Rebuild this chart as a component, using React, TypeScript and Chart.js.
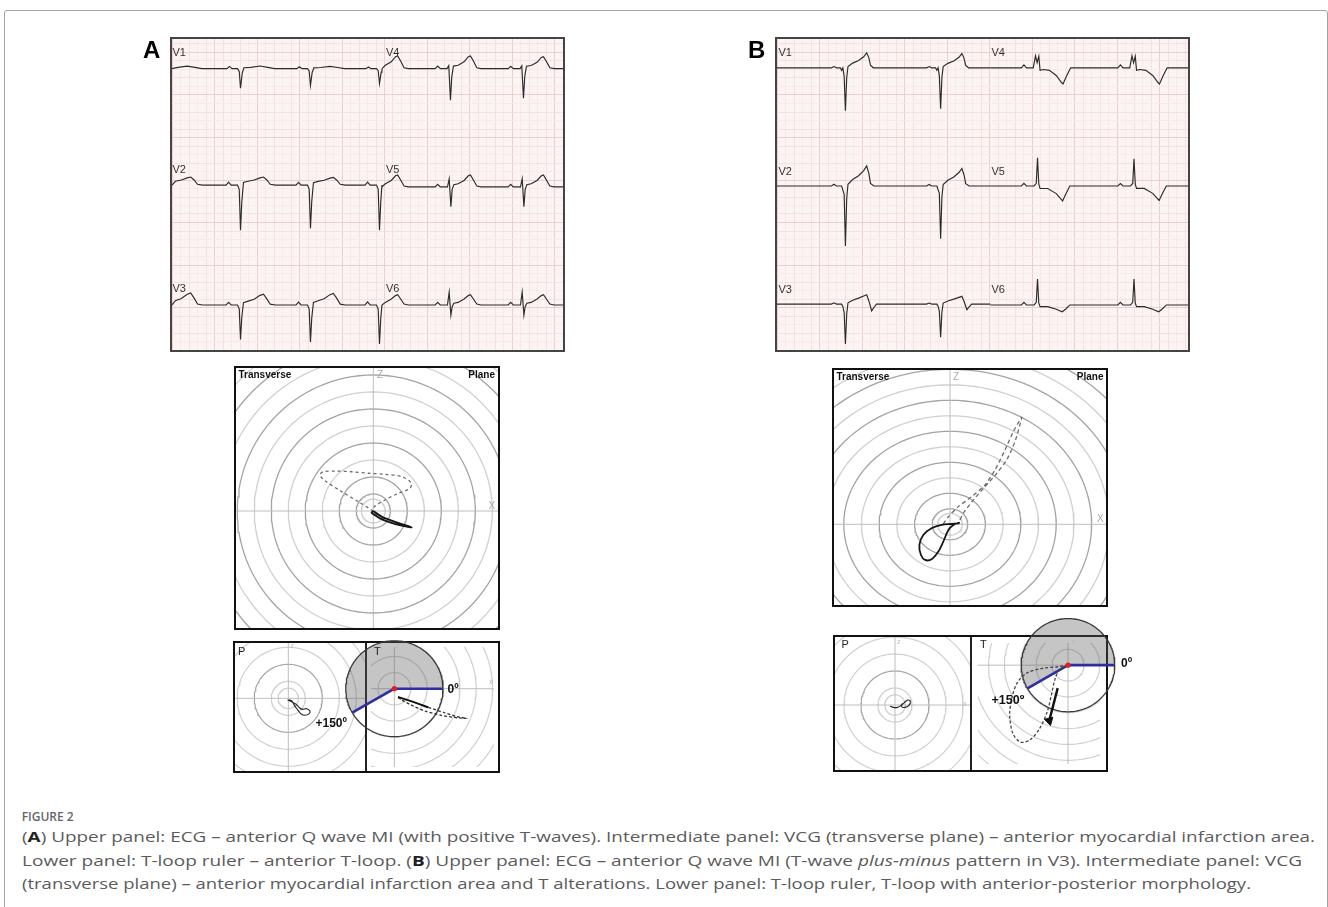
import React, { useEffect, useLayoutEffect, useRef } from "react";
import { Chart, registerables } from "chart.js";
Chart.register(...registerables);

type P = [number, number];
type Pad = { l: number; t: number; r: number; b: number };

// ================= DATA =================
// ECG strips. Units: small grid squares; x from the strip's left edge, y up from its bottom.
const ecgLeadNames = ["V1", "V2", "V3", "V4", "V5", "V6"];

// Panel A
const ecgA_baselines = [33.1, 19.4, 5.3, 33.1, 19.2, 5.3];
const ecgA_split = 24.7;
const ecgA_leftBeats = [-0.5, 8.06, 16.29, 24.41];
const ecgA_rightBeats = [24.2, 32.76, 41.35];
const ecgA_beatScales = [
  [1, 1.05, 0.9, 0.8],
  [1, 1, 0.96, 1],
  [1, 0.9, 0.97, 1.02],
  [1, 1, 0.94],
  [1, 1, 1],
  [1, 1, 1],
];
const ecgA_V1: P[] = [[-1.6, 0], [-1.3, 0.25], [-1.0, 0], [-0.35, 0], [-0.15, -0.3], [0, -2.2], [0.2, -0.5], [0.4, 0.1], [1.2, 0.15], [2.3, 0.3], [3.2, 0.15], [4, 0]];
const ecgA_V2: P[] = [[-1.7, 0], [-1.4, 0.35], [-1.1, 0], [-0.35, 0], [-0.15, -0.5], [0, -5.3], [0.15, -2.0], [0.35, 0.3], [0.9, 0.45], [1.6, 0.6], [2.3, 0.85], [2.7, 0.95], [3.1, 0.6], [3.5, 0.1], [4.1, 0]];
const ecgA_V3: P[] = [[-1.7, 0], [-1.4, 0.35], [-1.1, 0], [-0.35, 0], [-0.15, -0.5], [0, -4.5], [0.15, -1.6], [0.35, 0.3], [0.9, 0.5], [1.6, 0.75], [2.3, 1.25], [2.7, 1.4], [3.1, 0.8], [3.5, 0.1], [4.1, 0]];
const ecgA_V4: P[] = [[-1.8, 0], [-1.5, 0.3], [-1.2, 0], [-0.4, 0], [-0.2, 0.35], [0, -3.7], [0.15, -1.0], [0.35, 0.3], [0.9, 0.4], [1.6, 0.8], [2.1, 1.4], [2.35, 1.5], [2.7, 0.9], [3.1, 0.1], [3.6, 0]];
const ecgA_V5: P[] = [[-1.8, 0], [-1.5, 0.3], [-1.2, 0], [-0.35, 0], [-0.15, 0.95], [0.05, -2.35], [0.2, -0.3], [0.4, 0.25], [0.9, 0.35], [1.6, 0.75], [2.1, 1.3], [2.35, 1.4], [2.7, 0.8], [3.1, 0.1], [3.6, 0]];
const ecgA_V6: P[] = [[-1.8, 0], [-1.5, 0.3], [-1.2, 0], [-0.35, 0], [-0.15, 1.5], [0.05, -1.2], [0.2, -0.2], [0.4, 0.2], [0.9, 0.3], [1.6, 0.7], [2.1, 1.1], [2.35, 1.2], [2.7, 0.7], [3.1, 0.1], [3.6, 0]];
const ecgA_templates = [ecgA_V1, ecgA_V2, ecgA_V3, ecgA_V4, ecgA_V5, ecgA_V6];

// Panel B
const ecgB_baselines = [33.2, 19.3, 5.4, 33.2, 19.3, 5.3];
const ecgB_split = 25.1;
const ecgB_leftBeats = [8.0, 19.2];
const ecgB_rightBeats = [30.65, 42.0];
const ecgB_beatScales = [[1, 0.95], [1, 0.88], [1, 0.83], [1, 1], [1, 0.97], [1, 1]];
const ecgB_V1: P[] = [[-1.6, 0], [-1.3, 0.15], [-1.0, 0], [-0.55, 0], [-0.4, -0.3], [-0.25, 0], [-0.1, -1], [0.05, -5.06], [0.2, -1.2], [0.35, 0.15], [0.9, 0.55], [1.6, 0.85], [2.2, 1.3], [2.55, 1.76], [2.8, 1.2], [3.0, 0.3], [3.33, 0], [4, 0]];
const ecgB_V2: P[] = [[-1.6, 0], [-1.3, 0.2], [-1.0, 0], [-0.4, 0], [-0.1, -1], [0.05, -7.06], [0.2, -1.5], [0.35, 0.2], [0.9, 0.75], [1.6, 1.2], [2.2, 1.8], [2.55, 2.35], [2.8, 1.5], [3.0, 0.3], [3.4, 0], [4, 0]];
const ecgB_V3: P[] = [[-1.6, 0], [-1.3, 0.15], [-1.0, 0], [-0.4, 0], [-0.25, -0.3], [-0.1, -1], [0.05, -4.7], [0.2, -1.2], [0.35, 0.15], [0.9, 0.45], [1.6, 0.7], [2.2, 0.95], [2.55, 1.1], [2.8, 0.4], [3.14, -0.8], [3.4, -0.4], [3.7, 0], [4.2, 0]];
const ecgB_V4: P[] = [[-1.9, 0], [-1.6, 0.35], [-1.3, 0], [-0.5, 0], [-0.24, 1.4], [-0.05, 0.6], [0.15, 1.35], [0.3, -0.3], [0.7, -0.2], [1.4, -0.3], [2.2, -0.9], [2.8, -1.7], [3.0, -1.9], [3.4, -1.0], [3.9, 0], [4.5, 0]];
const ecgB_V5: P[] = [[-1.9, 0], [-1.6, 0.3], [-1.3, 0], [-0.4, 0], [-0.15, 0.3], [0, 3.3], [0.15, 0.2], [0.3, -0.3], [1.2, -0.3], [2.2, -0.9], [2.95, -1.76], [3.3, -1.0], [3.8, 0], [4.5, 0]];
const ecgB_V6: P[] = [[-1.9, 0], [-1.6, 0.3], [-1.3, 0], [-0.4, 0], [-0.15, 0.3], [0, 3.06], [0.15, 0.2], [0.3, -0.2], [1.2, -0.2], [2.2, -0.5], [2.9, -0.8], [3.3, -0.5], [3.8, 0], [4.5, 0]];
const ecgB_templates = [ecgB_V1, ecgB_V2, ecgB_V3, ecgB_V4, ecgB_V5, ecgB_V6];

// VCG transverse plane (units: one ring step), x right, z up
const vcgRingRadii = [0.7, 1, 2, 3, 4, 5, 6, 7, 8, 9, 10, 11, 12];
const vcgRingDark = [0, 1, 1, 0, 1, 0, 1, 0, 1, 0, 1, 0, 1];
const vcgA_qrsLoop: P[] = [[0, 0], [-0.88, 0.55], [-1.86, 1.14], [-2.84, 1.78], [-3.14, 2.12], [-2.94, 2.31], [-2.25, 2.35], [-1.27, 2.31], [-0.29, 2.22], [0.69, 2.16], [1.67, 2.02], [2.22, 1.67], [2.16, 1.33], [1.47, 1.04], [0.69, 0.65], [0.06, 0.25], [0, 0]];
const vcgA_tLoop: P[] = [[0, 0], [0.49, -0.33], [1.08, -0.57], [1.67, -0.78], [2.25, -0.96], [1.67, -0.86], [0.98, -0.67], [0.39, -0.43], [0.1, -0.24], [-0.1, -0.1], [0, 0]];
const vcgB_qrsLoop: P[] = [[-0.38, 0.02], [-0.09, 0.49], [0.47, 1.14], [1.22, 1.78], [1.98, 2.54], [2.54, 3.51], [3.11, 4.8], [3.58, 5.98], [4.05, 6.9], [3.92, 6.3], [3.67, 5.33], [3.2, 4.15], [2.64, 3.29], [1.98, 2.43], [1.32, 1.57], [0.75, 0.71], [0.47, 0.06]];
const vcgB_tLoop: P[] = [[0.47, 0.06], [0.09, 0.02], [-0.47, -0.04], [-1.04, -0.26], [-1.51, -0.69], [-1.73, -1.33], [-1.64, -1.98], [-1.41, -2.3], [-1.04, -2.26], [-0.66, -1.76], [-0.38, -1.12], [-0.09, -0.37], [0.19, -0.04], [0.56, 0.11]];

// T-loop ruler
const rulerP_ringRadii = [0.6, 1, 2, 3, 4, 5];
const rulerP_ringDark = [0, 0, 1, 0, 0, 0];
const rulerT_ringRadii = [1, 2, 3, 4, 5, 6, 7, 8, 9];
const rulerAngles = [0, 150]; // degrees, clockwise
const rulerA_radius = 2.97;
const rulerB_radius = 2.94;
const rulerA_pLoop: P[] = [[0, -0.1], [0.2, -0.14], [0.29, -0.29], [0.43, -0.53], [0.59, -0.73], [0.75, -0.92], [0.98, -1.0], [1.22, -0.92], [1.27, -0.75], [1.08, -0.61], [0.82, -0.65], [0.63, -0.53], [0.43, -0.33], [0.16, -0.18], [-0.04, -0.1]];
const rulerA_tLoopSolid: P[] = [[0.22, -0.51], [1.1, -0.8], [2.08, -1.16]];
const rulerA_tLoopDashed: P[] = [[2.08, -1.16], [3.06, -1.49], [3.84, -1.73], [4.43, -1.84], [3.84, -1.8], [2.86, -1.65], [1.88, -1.39], [1.0, -1.0], [0.41, -0.67], [0.22, -0.51]];
const rulerB_pLoop: P[] = [[-0.29, -0.06], [-0.1, -0.14], [0.16, -0.14], [0.35, -0.02], [0.55, 0.14], [0.75, 0.29], [0.9, 0.22], [0.82, -0.02], [0.59, -0.14], [0.39, -0.1], [0.43, 0.1]];
const rulerB_tLoop: P[] = [[0, 0], [-0.63, -0.1], [-1.61, -0.2], [-2.59, -0.49], [-3.18, -1.08], [-3.51, -1.96], [-3.67, -3.14], [-3.47, -4.31], [-2.98, -4.86], [-2.39, -4.71], [-1.8, -4.02], [-1.31, -2.94], [-1.02, -1.76], [-0.82, -0.88], [-0.53, -0.29], [0, 0]];
const rulerB_arrow: P[] = [[-0.65, -1.45], [-1.18, -3.5]];

// Caption
const captionTitle = "FIGURE 2";

// ================= HELPERS =================
const SANS = '"Liberation Sans", Arial, Helvetica, sans-serif';
const CAP = '"Open Sans", "Noto Sans", sans-serif';
const ECG_UNIT = 8.5;
const RING_DARK = "#a4a4a4";
const RING_LIGHT = "#d0d0d0";
const AXIS = "#bdbdbd";

const xy = (p: P[]) => p.map(([x, y]) => ({ x, y }));

function arc(r: number, from: number, to: number, step = 3) {
  const pts: { x: number; y: number }[] = [];
  for (let a = from; a <= to + 1e-9; a += step) {
    const t = (a * Math.PI) / 180;
    pts.push({ x: r * Math.cos(t), y: -r * Math.sin(t) });
  }
  return pts;
}

function line(data: any[], color: string, width: number, extra: any = {}) {
  return { data, showLine: true, borderColor: color, borderWidth: width, pointRadius: 0, fill: false, tension: 0, ...extra };
}

function buildTrace(c0: number, c1: number, base: number, beats: number[], scales: number[], tpl: P[]) {
  const pts = [{ x: c0, y: base }];
  beats.forEach((b, i) => {
    tpl.forEach(([dx, dy]) => {
      const x = b + dx;
      if (x > c0 && x < c1) pts.push({ x, y: base + dy * scales[i] });
    });
  });
  pts.push({ x: c1, y: base });
  return pts;
}

const baseOptions = {
  responsive: false,
  animation: false,
  devicePixelRatio: 1,
  events: [],
  plugins: { legend: { display: false }, tooltip: { enabled: false } },
};

function ecgConfig(w: number, h: number, baselines: number[], split: number, left: number[], right: number[], scales: number[][], tpls: P[][]) {
  const xMax = w / ECG_UNIT;
  const yMax = h / ECG_UNIT;
  const traces = tpls.map((tpl, i) =>
    i < 3
      ? buildTrace(0, split, baselines[i], left, scales[i], tpl)
      : buildTrace(split, xMax, baselines[i], right, scales[i], tpl)
  );
  const gridTicks = (scale: any) => {
    const t: any[] = [];
    for (let v = 0; v <= scale.max; v++) t.push({ value: v });
    scale.ticks = t;
  };
  const gridColor = (ctx: any) => {
    const v = ctx.tick ? ctx.tick.value : 1;
    if (v % 5 === 0) return "#ebcfcf";
    if (v % 2 === 0) return "#f3e2e2";
    return "#f7eaea";
  };
  const axis = (max: number) => ({
    type: "linear",
    min: 0,
    max,
    afterBuildTicks: gridTicks,
    ticks: { display: false },
    grid: { color: gridColor, drawTicks: false, lineWidth: 1 },
    border: { display: false },
  });
  return {
    type: "scatter",
    data: { datasets: traces.map((t) => line(t, "#2b2b2b", 1.15)) },
    options: { ...baseOptions, layout: { padding: 0 }, scales: { x: axis(xMax), y: axis(yMax) } },
  };
}

type Geo = { w: number; h: number; cx: number; cy: number; ux: number; uy: number; pad: Pad };

function polarConfig(g: Geo, datasets: any[]) {
  return {
    type: "scatter",
    data: { datasets },
    options: {
      ...baseOptions,
      layout: { padding: 0 },
      scales: {
        x: { type: "linear", display: false, min: (-g.pad.l - g.cx) / g.ux, max: (g.w + g.pad.r - g.cx) / g.ux },
        y: { type: "linear", display: false, min: (g.cy - g.h - g.pad.b) / g.uy, max: (g.cy + g.pad.t) / g.uy },
      },
    },
  };
}

const panelClip = (p: Pad) => ({ left: -p.l, top: -p.t, right: -p.r, bottom: -p.b });

function ringsAndAxes(radii: number[], dark: number[], pad: Pad, width = 1.2) {
  const clip = panelClip(pad);
  const ds = radii.map((r, i) => line(arc(r, 0, 360), dark[i] ? RING_DARK : RING_LIGHT, width, { clip, order: 20 }));
  ds.push(line([{ x: -40, y: 0 }, { x: 40, y: 0 }], AXIS, 1, { clip, order: 19 }));
  ds.push(line([{ x: 0, y: -40 }, { x: 0, y: 40 }], AXIS, 1, { clip, order: 19 }));
  return ds;
}

function rulerSets(r: number) {
  const a0 = rulerAngles[0];
  const a1 = rulerAngles[1];
  const shade = [{ x: 0, y: 0 }, ...arc(r, a1, 360 + a0, 2), { x: 0, y: 0 }];
  const end = (a: number) => arc(r, a, a, 1)[0];
  return [
    line(shade, "rgba(0,0,0,0)", 1, { fill: "shape", backgroundColor: "rgba(95,95,95,0.36)", clip: false, order: 10 }),
    line(arc(r, 0, 360, 2), "#3a3a3a", 1.3, { clip: false, order: 5 }),
    line([{ x: 0, y: 0 }, end(a0)], "#2e2e9e", 2.6, { clip: false, order: 3 }),
    line([{ x: 0, y: 0 }, end(a1)], "#2e2e9e", 2.6, { clip: false, order: 3 }),
    { data: [{ x: 0, y: 0 }], showLine: false, pointRadius: 2.6, pointBackgroundColor: "#e0201c", pointBorderWidth: 0, clip: false, order: 1 },
  ];
}

const ZERO: Pad = { l: 0, t: 0, r: 0, b: 0 };

// geometry
const vcgA_geo: Geo = { w: 262, h: 260, cx: 137.3, cy: 143, ux: 17, uy: 17, pad: ZERO };
const vcgB_geo: Geo = { w: 272, h: 235, cx: 116, cy: 154.3, ux: 17.7, uy: 15.5, pad: ZERO };
const rAP_geo: Geo = { w: 130, h: 128, cx: 53.3, cy: 55.3, ux: 17, uy: 17, pad: ZERO };
const rAT_geo: Geo = { w: 131, h: 128, cx: 26, cy: 45, ux: 17, uy: 17, pad: { l: 45, t: 20, r: 40, b: 10 } };
const rBP_geo: Geo = { w: 135, h: 133, cx: 60, cy: 68, ux: 17, uy: 17, pad: ZERO };
const rBT_geo: Geo = { w: 134, h: 133, cx: 97, cy: 26.3, ux: 17, uy: 17, pad: { l: 10, t: 35, r: 40, b: 10 } };

function vcgA() {
  const g = vcgA_geo;
  return polarConfig(g, [
    ...ringsAndAxes(vcgRingRadii, vcgRingDark, g.pad, 1.3),
    line(xy(vcgA_qrsLoop), "#6c6c6c", 1.3, { borderDash: [3, 3], tension: 0.3, order: 4 }),
    line(xy(vcgA_tLoop), "#151515", 2.0, { tension: 0.3, order: 3 }),
  ]);
}
function vcgB() {
  const g = vcgB_geo;
  return polarConfig(g, [
    ...ringsAndAxes(vcgRingRadii, vcgRingDark, g.pad, 1.3),
    line(xy(vcgB_qrsLoop), "#6c6c6c", 1.3, { borderDash: [4, 3], tension: 0.25, order: 4 }),
    line(xy(vcgB_tLoop), "#151515", 1.8, { tension: 0.3, order: 3 }),
  ]);
}
function rulerAP() {
  const g = rAP_geo;
  return polarConfig(g, [
    ...ringsAndAxes(rulerP_ringRadii, rulerP_ringDark, g.pad),
    line(xy(rulerA_pLoop), "#222", 1.1, { tension: 0.3, order: 3 }),
  ]);
}
function rulerAT() {
  const g = rAT_geo;
  return polarConfig(g, [
    ...ringsAndAxes(rulerT_ringRadii, rulerT_ringRadii.map(() => 0), g.pad),
    ...rulerSets(rulerA_radius),
    line(xy(rulerA_tLoopSolid), "#111", 2.0, { tension: 0.2, order: 2 }),
    line(xy(rulerA_tLoopDashed), "#333", 1.3, { borderDash: [3, 2], tension: 0.2, order: 2 }),
  ]);
}
function rulerBP() {
  const g = rBP_geo;
  return polarConfig(g, [
    ...ringsAndAxes(rulerP_ringRadii, rulerP_ringDark, g.pad),
    line(xy(rulerB_pLoop), "#222", 1.1, { tension: 0.3, order: 3 }),
  ]);
}
function rulerBT() {
  const g = rBT_geo;
  const [s, e] = rulerB_arrow;
  const rot = (Math.atan2(e[0] - s[0], -(e[1] - s[1])) * 180) / Math.PI;
  return polarConfig(g, [
    ...ringsAndAxes(rulerT_ringRadii, rulerT_ringRadii.map(() => 0), g.pad),
    ...rulerSets(rulerB_radius),
    line(xy(rulerB_tLoop), "#444", 1.3, { borderDash: [3, 2], tension: 0.3, order: 2 }),
    line(xy(rulerB_arrow), "#111", 2.4, { order: 1, clip: false }),
    {
      data: [{ x: e[0], y: e[1] }],
      showLine: false,
      pointStyle: "triangle",
      pointRadius: 5,
      rotation: 180 + rot,
      pointBackgroundColor: "#111",
      pointBorderColor: "#111",
      pointBorderWidth: 1,
      clip: false,
      order: 1,
    },
  ]);
}

// ================= COMPONENTS =================
function ChartCanvas({ x, y, w, h, pad = ZERO, build }: { x: number; y: number; w: number; h: number; pad?: Pad; build: () => any }) {
  const ref = useRef<HTMLCanvasElement>(null);
  useEffect(() => {
    const chart = new Chart(ref.current as HTMLCanvasElement, build());
    return () => chart.destroy();
  }, []);
  const W = w + pad.l + pad.r;
  const H = h + pad.t + pad.b;
  return (
    <canvas
      ref={ref}
      width={W}
      height={H}
      style={{ position: "absolute", left: x - pad.l, top: y - pad.t, width: W, height: H, display: "block" }}
    />
  );
}

function Box({ x, y, w, h, b, color = "#111", bg }: { x: number; y: number; w: number; h: number; b: number; color?: string; bg?: string }) {
  return (
    <div
      style={{
        position: "absolute",
        left: x - b,
        top: y - b,
        width: w + 2 * b,
        height: h + 2 * b,
        border: `${b}px solid ${color}`,
        boxSizing: "border-box",
        background: bg,
      }}
    />
  );
}

function T({ x, b, s, w = 400, c = "#222", f = SANS, k = 0.8465, right = false, children }: any) {
  return (
    <div
      style={{
        position: "absolute",
        left: x,
        top: b - k * s,
        fontSize: s,
        lineHeight: `${s}px`,
        fontWeight: w,
        color: c,
        fontFamily: f,
        whiteSpace: "nowrap",
        transform: right ? "translateX(-100%)" : undefined,
      }}
    >
      {children}
    </div>
  );
}

function FitLine({ x, b, s, target, children }: any) {
  const ref = useRef<HTMLDivElement>(null);
  useLayoutEffect(() => {
    const el = ref.current as HTMLDivElement;
    el.style.transform = "none";
    const w = el.getBoundingClientRect().width;
    el.style.transform = `scaleX(${target / w})`;
  }, []);
  return (
    <div
      ref={ref}
      style={{
        position: "absolute",
        left: x,
        top: b - 0.888 * s,
        fontSize: s,
        lineHeight: `${s}px`,
        color: "#5b5b5b",
        fontFamily: CAP,
        whiteSpace: "nowrap",
        transformOrigin: "0 0",
      }}
    >
      {children}
    </div>
  );
}

export default function App() {
  const ecgLabelsA = [[172.5, 56], [172.5, 173.5], [172.5, 292.3], [386, 56], [386, 173.5], [386, 292.3]];
  const ecgLabelsB = [[778.5, 56.7], [778.5, 175], [778.5, 293.3], [991.5, 56.7], [991.5, 175], [991.5, 293.3]];
  return (
    <div style={{ position: "absolute", left: 0, top: 0, width: 1328, height: 907, overflow: "hidden", background: "#fff" }}>
      <div
        style={{
          position: "absolute",
          left: 4,
          top: 10,
          width: 1324,
          height: 930,
          border: "1.5px solid #a2a2a2",
          borderRadius: 3,
          boxSizing: "border-box",
        }}
      />

      {/* ECG strips */}
      <Box x={172} y={39} w={391} h={311} b={2} color="#444" bg="#fcf3f3" />
      <ChartCanvas x={172} y={39} w={391} h={311} build={() => ecgConfig(391, 311, ecgA_baselines, ecgA_split, ecgA_leftBeats, ecgA_rightBeats, ecgA_beatScales, ecgA_templates)} />
      <Box x={777} y={39} w={411} h={311} b={2} color="#444" bg="#fcf3f3" />
      <ChartCanvas x={777} y={39} w={411} h={311} build={() => ecgConfig(411, 311, ecgB_baselines, ecgB_split, ecgB_leftBeats, ecgB_rightBeats, ecgB_beatScales, ecgB_templates)} />
      {ecgLeadNames.map((n, i) => (
        <T key={"a" + n} x={ecgLabelsA[i][0]} b={ecgLabelsA[i][1]} s={11} c="#333">{n}</T>
      ))}
      {ecgLeadNames.map((n, i) => (
        <T key={"b" + n} x={ecgLabelsB[i][0]} b={ecgLabelsB[i][1]} s={11} c="#333">{n}</T>
      ))}
      <T x={143} b={58} s={24} w={700} c="#000">A</T>
      <T x={748} b={58} s={24} w={700} c="#000">B</T>

      {/* VCG transverse planes */}
      <Box x={236} y={368} w={262} h={260} b={2} bg="#fff" />
      <ChartCanvas x={236} y={368} w={262} h={260} build={vcgA} />
      <Box x={834} y={370} w={272} h={235} b={2} bg="#fff" />
      <ChartCanvas x={834} y={370} w={272} h={235} build={vcgB} />
      <T x={238.5} b={378} s={10} w={700} c="#111">Transverse</T>
      <T x={495} b={378} s={10} w={700} c="#111" right>Plane</T>
      <T x={377} b={378} s={10} c="#aaa">Z</T>
      <T x={488.5} b={509} s={10} c="#aaa">X</T>
      <T x={836.5} b={380.5} s={10} w={700} c="#111">Transverse</T>
      <T x={1103.5} b={380.5} s={10} w={700} c="#111" right>Plane</T>
      <T x={953} b={380} s={10} c="#aaa">Z</T>
      <T x={1097} b={522} s={10} c="#aaa">X</T>

      {/* T-loop rulers */}
      <Box x={235} y={643} w={263} h={128} b={2} bg="#fff" />
      <div style={{ position: "absolute", left: 365, top: 643, width: 2, height: 128, background: "#222" }} />
      <Box x={835} y={637} w={271} h={133} b={2} bg="#fff" />
      <div style={{ position: "absolute", left: 970, top: 637, width: 2, height: 133, background: "#222" }} />
      <ChartCanvas x={235} y={643} w={130} h={128} build={rulerAP} />
      <ChartCanvas x={835} y={637} w={135} h={133} build={rulerBP} />
      <ChartCanvas x={367} y={643} w={131} h={128} pad={rAT_geo.pad} build={rulerAT} />
      <ChartCanvas x={972} y={637} w={134} h={133} pad={rBT_geo.pad} build={rulerBT} />

      <T x={238} b={655} s={11} c="#222">P</T>
      <T x={374} b={655} s={11} c="#222">T</T>
      <T x={290.5} b={648} s={7} c="#bbb">z</T>
      <T x={358} b={694} s={7} c="#bbb">x</T>
      <T x={395.5} b={648} s={7} c="#bbb">z</T>
      <T x={489} b={684} s={7} c="#bbb">x</T>
      <T x={447.5} b={693} s={12} w={700} c="#111">0º</T>
      <T x={315.5} b={727} s={12} w={700} c="#111">+150º</T>

      <T x={841.5} b={648.5} s={11} c="#222">P</T>
      <T x={980} b={648.5} s={11} c="#222">T</T>
      <T x={897} b={644} s={7} c="#bbb">z</T>
      <T x={963} b={706} s={7} c="#bbb">x</T>
      <T x={1071} b={644} s={7} c="#bbb">z</T>
      <T x={1099} b={660} s={7} c="#bbb">x</T>
      <T x={991.5} b={705} s={12.5} w={700} c="#111">+150º</T>
      <T x={1121} b={667} s={12} w={700} c="#111">0º</T>

      {/* Caption */}
      <T x={21.7} b={821.7} s={12} w={600} c="#666" f={CAP} k={0.888}>{captionTitle}</T>
      <FitLine x={21.7} b={842.3} s={15} target={1293}>
        (<b style={{ color: "#222" }}>A</b>) Upper panel: ECG – anterior Q wave MI (with positive T-waves). Intermediate panel: VCG (transverse plane) – anterior myocardial infarction area.
      </FitLine>
      <FitLine x={21.7} b={866} s={15} target={1280}>
        Lower panel: T-loop ruler – anterior T-loop. (<b style={{ color: "#222" }}>B</b>) Upper panel: ECG – anterior Q wave MI (T-wave <i>plus-minus</i> pattern in V3). Intermediate panel: VCG
      </FitLine>
      <FitLine x={21.7} b={889.7} s={15} target={1229}>
        (transverse plane) – anterior myocardial infarction area and T alterations. Lower panel: T-loop ruler, T-loop with anterior-posterior morphology.
      </FitLine>
    </div>
  );
}
